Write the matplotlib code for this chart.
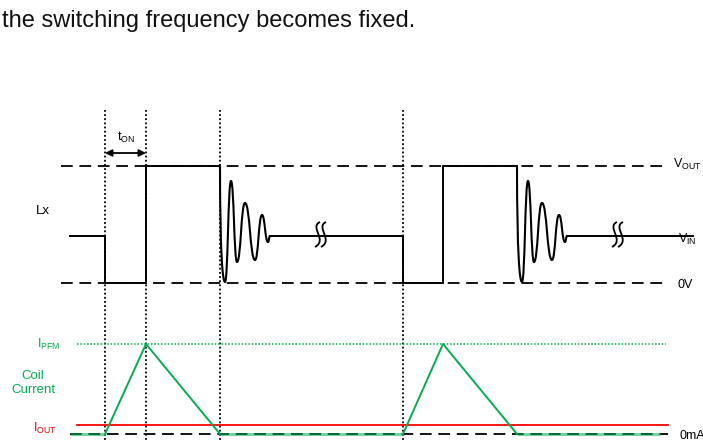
import matplotlib
matplotlib.use("Agg")
import matplotlib.pyplot as plt
from matplotlib.path import Path
from matplotlib.patches import PathPatch

plt.rcParams['font.family'] = ['Liberation Sans', 'DejaVu Sans']
plt.rcParams['mathtext.fontset'] = 'custom'
plt.rcParams['mathtext.rm'] = 'Liberation Sans'
plt.rcParams['mathtext.it'] = 'Liberation Sans'

# ---------------- data (diagram units: time along x, signal level along y) ----
caption = "the switching frequency becomes fixed."
switch_times = [105, 146, 220, 403, 443, 517]      # t_on start, t_on end, t_off end (2 cycles)
marker_times = [105, 146, 220, 403]                  # dotted vertical markers
lx_start, lx_end = 70, 693
level_vout, level_vin, level_0v = 166, 236, 283
# ringing after switch-off: time offsets and levels of successive extrema
ring_dt = [0, 5, 11, 17, 25, 35, 42, 48, 50]
ring_lv = [166, 282, 181, 262, 203, 260, 215, 242, 236]
break_times = [314, 611]
level_ipfm, level_iout, level_0ma = 344, 425, 434
coil_flat_end = 660
ref_line_start, ref_line_end = 61, 668

GREEN = '#00b050'
RED = '#ff0000'
LW = 1.4

fig = plt.figure(figsize=(7.03, 4.41), dpi=100)
ax = fig.add_axes([0, 0, 1, 1])
ax.set_xlim(0, 703)
ax.set_ylim(441, 0)
ax.axis('off')

# caption
ax.text(2, 26.5, caption, fontsize=17, ha='left', va='baseline', color='#111111')

# dashed reference levels
for lv in (level_vout, level_0v):
    ax.plot([ref_line_start, ref_line_end], [lv, lv], color='black', lw=1.3,
            dashes=(6.5, 3.7), zorder=1)
ax.plot([70, ref_line_end], [level_0ma, level_0ma], color='black', lw=1.3,
        dashes=(6.5, 3.7), zorder=1)

# dotted vertical markers
for t in marker_times:
    ax.plot([t, t], [110, 441], color='black', lw=1.3, dashes=(1, 1.3), zorder=2)

# Lx waveform
def ringing_path(t0):
    verts = [(t0 + ring_dt[0], ring_lv[0])]
    codes = [Path.MOVETO]
    for i in range(len(ring_dt) - 1):
        x0, y0 = t0 + ring_dt[i], ring_lv[i]
        x1, y1 = t0 + ring_dt[i + 1], ring_lv[i + 1]
        k = 0.5 * (x1 - x0)
        if i == 0:
            c1 = (x0 + 0.1, y0 + 0.75 * (y1 - y0))
        else:
            c1 = (x0 + k, y0)
        verts += [c1, (x1 - k, y1), (x1, y1)]
        codes += [Path.CURVE4] * 3
    return Path(verts, codes)

t1, t2, t3, t4, t5, t6 = switch_times
ax.plot([lx_start, t1, t1, t2, t2, t3], [level_vin, level_vin, level_0v, level_0v, level_vout, level_vout],
        color='black', lw=LW, zorder=3, solid_joinstyle='miter')
ax.plot([t3 + ring_dt[-1], t4, t4, t5, t5, t6],
        [level_vin, level_vin, level_0v, level_0v, level_vout, level_vout],
        color='black', lw=LW, zorder=3, solid_joinstyle='miter')
ax.plot([t6 + ring_dt[-1], lx_end], [level_vin, level_vin], color='black', lw=LW, zorder=3)
for t0 in (t3, t6):
    ax.add_patch(PathPatch(ringing_path(t0), fill=False, lw=1.5, edgecolor='black', zorder=3))

# break symbols
for bt in break_times:
    for off in (0, 6):
        x = bt + off
        p = Path([(x + 6, level_vin - 14), (x - 5, level_vin - 9), (x + 14, level_vin + 4), (x + 1, level_vin + 11)],
                 [Path.MOVETO, Path.CURVE4, Path.CURVE4, Path.CURVE4])
        ax.add_patch(PathPatch(p, fill=False, lw=1.3, edgecolor='black', zorder=4))

# t_on arrow
ax.annotate('', xy=(t1, 153), xytext=(t2, 153),
            arrowprops=dict(arrowstyle='<|-|>', color='black', lw=1.3, mutation_scale=10,
                            shrinkA=0, shrinkB=0))
ax.text((t1 + t2) / 2 + 1, 141, r'$\mathregular{t_{ON}}$', fontsize=9, ha='center', va='baseline')

# Lx labels
ax.text(43, 211, 'Lx', fontsize=9.5, ha='center', va='center')
ax.text(673, 168, r'$\mathregular{V_{OUT}}$', fontsize=9, ha='left', va='baseline')
ax.text(678, 243, r'$\mathregular{V_{IN}}$', fontsize=9, ha='left', va='baseline')
ax.text(677, 288, '0V', fontsize=9, ha='left', va='baseline')

# coil current section
ax.plot([77, 666], [level_ipfm, level_ipfm], color=GREEN, lw=1.1, dashes=(1, 1.2), zorder=2)
ax.plot([77, ref_line_end], [level_iout, level_iout], color=RED, lw=1.3, zorder=3)

ax.plot([t1, t2, t3], [level_0ma, level_ipfm, level_0ma], color=GREEN, lw=1.4, zorder=4)
ax.plot([t4, t5, t6], [level_0ma, level_ipfm, level_0ma], color=GREEN, lw=1.4, zorder=4)
for a, b in ((70, t1), (t3, t4), (t6, coil_flat_end)):
    ax.plot([a, b], [level_0ma, level_0ma], color=GREEN, lw=2.2, alpha=0.55, zorder=4,
            solid_capstyle='butt')

ax.text(37, 348, r'$\mathregular{I_{PFM}}$', fontsize=9, ha='left', va='baseline', color=GREEN)
ax.text(33, 383, 'Coil\nCurrent', fontsize=9.5, ha='center', va='center', color=GREEN,
        linespacing=1.15)
ax.text(33, 432, r'$\mathregular{I_{OUT}}$', fontsize=9, ha='left', va='baseline', color=RED)
ax.text(680, 439, '0mA', fontsize=9, ha='left', va='baseline')

fig.savefig('out.png', dpi=100)
